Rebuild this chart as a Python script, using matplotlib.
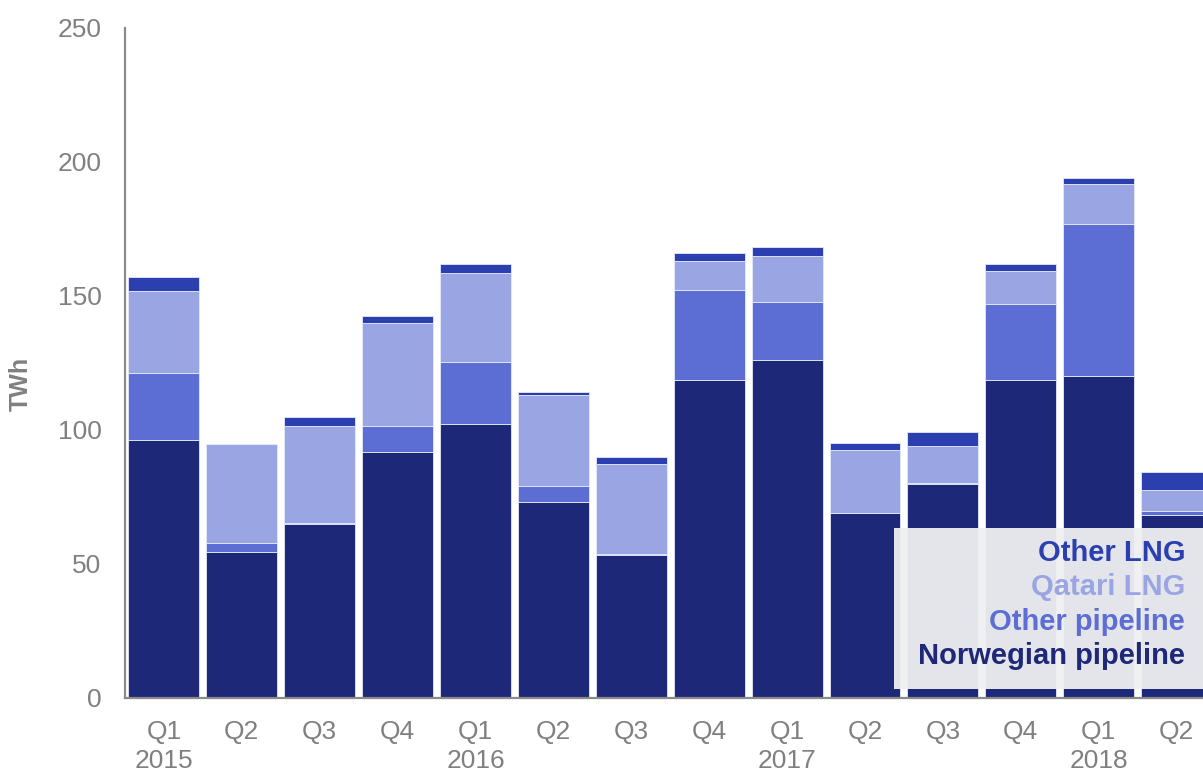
import numpy as np
import matplotlib
matplotlib.use("Agg")
import matplotlib.pyplot as plt
from matplotlib.patches import Rectangle

plt.rcParams['font.family'] = ['Liberation Sans', 'DejaVu Sans']

# quarterly gas supply by source, TWh
quarters = ["Q1\n2015", "Q2", "Q3", "Q4",
            "Q1\n2016", "Q2", "Q3", "Q4",
            "Q1\n2017", "Q2", "Q3", "Q4",
            "Q1\n2018", "Q2"]
norwegian_pipeline = [96.3, 54.6, 65.1, 91.6, 102.1, 73.2, 53.2, 118.7, 126.2, 69.0, 79.9, 118.7, 120.0, 68.1]
other_pipeline = [25.0, 3.3, 0.3, 10.0, 23.1, 5.9, 0.5, 33.6, 21.7, 0.0, 0.2, 28.4, 56.7, 1.5]
qatari_lng = [30.5, 36.8, 36.2, 38.5, 33.2, 33.8, 33.6, 10.9, 17.1, 23.5, 14.1, 12.2, 14.9, 8.0]
other_lng = [5.3, 0.0, 3.2, 2.6, 3.5, 1.3, 2.6, 3.0, 3.4, 2.6, 4.9, 2.7, 2.6, 6.9]

series = [("Norwegian pipeline", norwegian_pipeline, "#1e2878"),
          ("Other pipeline", other_pipeline, "#5c6dd4"),
          ("Qatari LNG", qatari_lng, "#9aa5e3"),
          ("Other LNG", other_lng, "#2c3fb0")]

grey = "#808080"

fig = plt.figure(figsize=(12.03, 7.71), dpi=100)
ax = fig.add_axes([0.1039, 0.0947, 0.8961, 0.869])

x = np.arange(len(quarters))
bottom = np.zeros(len(quarters))
for name, vals, col in series:
    ax.bar(x, vals, 0.91, bottom=bottom, color=col,
           edgecolor="#e6e9fa", linewidth=0.6, label=name)
    bottom += np.array(vals)

ax.set_xlim(-0.5, 13.34)
ax.set_ylim(0, 250)
ax.set_yticks(np.arange(0, 251, 50))
ax.set_xticks(x)
ax.set_xticklabels(quarters, linespacing=1.25)
ax.tick_params(axis="both", length=0, colors=grey, labelsize=19)
ax.tick_params(axis="y", pad=17)
ax.tick_params(axis="x", pad=16)

for s in ["top", "right"]:
    ax.spines[s].set_visible(False)
for s in ["left", "bottom"]:
    ax.spines[s].set_color("#8a8a8a")
    ax.spines[s].set_linewidth(1.6)

ax.set_ylabel("TWh", fontsize=18, fontweight="bold", color=grey)
ax.yaxis.set_label_coords(-0.0853, 0.469)

# legend panel: text only, coloured like each series, top = last stacked
fig.patches.append(Rectangle((894 / 1203, 1 - 689 / 771), (1203 - 894) / 1203,
                             (689 - 527.7) / 771, transform=fig.transFigure,
                             facecolor="#f0f0f2", edgecolor="none", alpha=0.95,
                             zorder=5))
line_y = [655.7, 621.7, 587.0, 553.0]
for (name, _, col), yy in zip(series, line_y):
    fig.text(1185 / 1203, 1 - yy / 771, name, ha="right", va="center",
             fontsize=21, fontweight="bold", color=col, zorder=6)

fig.savefig("out.png", dpi=100)
